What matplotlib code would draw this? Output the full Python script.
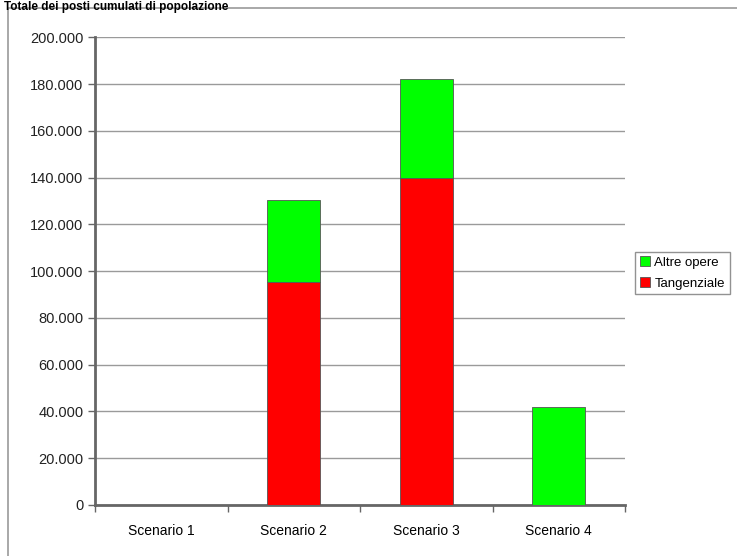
import numpy as np
import matplotlib
matplotlib.use("Agg")
import matplotlib.pyplot as plt
from matplotlib.patches import Rectangle
from matplotlib.ticker import FuncFormatter, FixedLocator

plt.rcParams['font.family'] = ['Liberation Sans', 'DejaVu Sans']

# data
scenari = ['Scenario 1', 'Scenario 2', 'Scenario 3', 'Scenario 4']
tangenziale = [0, 95500, 140000, 0]
altre_opere = [0, 35000, 42000, 42000]

fig = plt.figure(figsize=(7.37, 5.56), dpi=100)
ax = fig.add_axes([0.129, 0.092, 0.719, 0.841])

# outer chart frame
fig.patches.append(Rectangle((0.011, -0.01), 1.0, 0.996, transform=fig.transFigure,
                             fill=False, edgecolor='#9a9a9a', linewidth=1.2))
# title (cut off in the original, kept whole here)
fig.text(0.006, 0.999, "Totale dei posti cumulati di popolazione", fontsize=8.5,
         fontweight='bold', va='top', ha='left', color='black')

x = np.arange(len(scenari))
w = 0.4
ax.bar(x, tangenziale, w, color='#ff0000', edgecolor='#555555', linewidth=0.6,
       label='Tangenziale', zorder=3)
ax.bar(x, altre_opere, w, bottom=tangenziale, color='#00ff00', edgecolor='#555555',
       linewidth=0.6, label='Altre opere', zorder=3)

ax.set_xlim(-0.5, len(scenari) - 0.5)
ax.set_ylim(0, 200000)
ax.set_yticks(np.arange(0, 200001, 20000))
ax.yaxis.set_major_formatter(FuncFormatter(lambda v, p: f"{int(v):,}".replace(',', '.')))
ax.yaxis.grid(True, color='#9a9a9a', linewidth=1.0, zorder=0)

ax.set_xticks(x)
ax.set_xticklabels(scenari)
ax.xaxis.set_minor_locator(FixedLocator(np.arange(-0.5, len(scenari), 1.0)))
ax.tick_params(axis='x', which='major', length=0, pad=14, labelsize=10)
ax.tick_params(axis='x', which='minor', length=5, direction='out', color='#666666', width=1)
ax.tick_params(axis='y', length=5, direction='out', color='#666666', width=1, labelsize=10.5,
               labelcolor='#222222')

for s in ['top', 'right']:
    ax.spines[s].set_visible(False)
for s in ['left', 'bottom']:
    ax.spines[s].set_color('#666666')
    ax.spines[s].set_linewidth(2)

h, l = ax.get_legend_handles_labels()
leg = fig.legend(h[::-1], l[::-1], loc='center left', bbox_to_anchor=(0.862, 0.509),
                 fontsize=9.5, frameon=True, fancybox=False, edgecolor='#777777',
                 handlelength=0.8, handleheight=0.8, handletextpad=0.3,
                 borderpad=0.35, labelspacing=0.6, borderaxespad=0)
leg.get_frame().set_linewidth(1.0)

fig.savefig('out.png', dpi=100)
